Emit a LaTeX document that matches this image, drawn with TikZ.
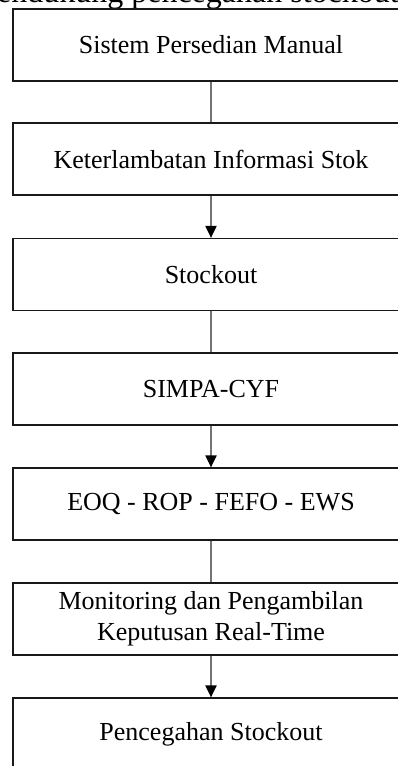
\documentclass[tikz,border=0pt]{standalone}
\usepackage{fontspec}
\setmainfont{Liberation Serif}
\usetikzlibrary{arrows.meta}
\tikzset{box/.style={draw=black!90, line width=1.2pt, rectangle, minimum width=396pt, minimum height=72pt, inner sep=0pt, align=center, font=\fontsize{26}{31}\selectfont}}
\tikzset{link/.style={draw=black!55, line width=2pt}}
\tikzset{arc/.style={link, -{Triangle[length=12pt, width=11pt, color=black]}}}
\tikzset{caption/.style={anchor=base west, inner sep=0pt, font=\fontsize{32}{36}\selectfont}}

\begin{document}
\begin{tikzpicture}[x=1pt, y=-1pt]
%flow from manual inventory to stockout prevention, cropped figure
\useasboundingbox (0,0) rectangle (398,766);
\clip (0,0) rectangle (398,766);
\node (cap) at (-28,2.5)[caption]{mendukung pencegahan stockout};
\node (manual) at (211,45)[box]{Sistem Persedian Manual};
\node (delay) at (211,159)[box]{Keterlambatan Informasi Stok};
\node (stockout) at (211,274.5)[box]{Stockout};
\node (simpa) at (211,389)[box]{SIMPA-CYF};
\node (methods) at (211,504)[box]{EOQ - ROP - FEFO - EWS};
\node (monitor) at (211,619)[box]{Monitoring dan Pengambilan\\Keputusan Real-Time};
\node (prevent) at (211,734)[box]{Pencegahan Stockout};
\draw[link] (manual)--(delay);
\draw[arc] (delay)--(stockout);
\draw[link] (stockout)--(simpa);
\draw[arc] (simpa)--(methods);
\draw[link] (methods)--(monitor);
\draw[arc] (monitor)--(prevent);
\end{tikzpicture}
\end{document}
